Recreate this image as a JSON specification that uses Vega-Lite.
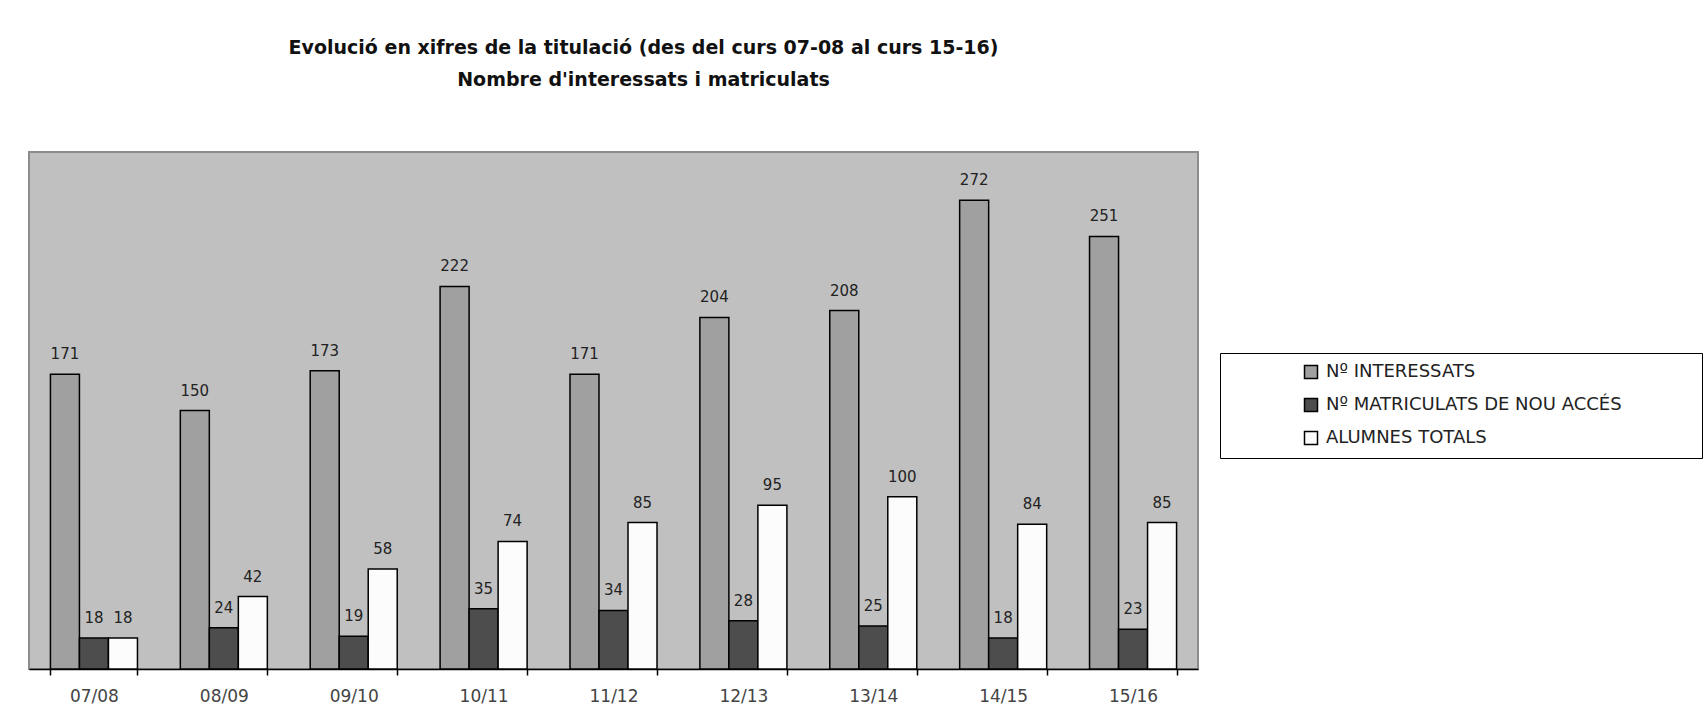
{
  "$schema": "https://vega.github.io/schema/vega-lite/v6.json",
  "width": 1169,
  "height": 517,
  "autosize": {"type": "none"},
  "padding": {"left": 29, "top": 152, "right": 506, "bottom": 58},
  "background": "white",
  "title": {
    "text": ["Evolució en xifres de la titulació (des del curs 07-08 al curs 15-16)", "Nombre d'interessats i matriculats"],
    "font": "DejaVu Sans",
    "fontWeight": "bold",
    "fontSize": 19,
    "lineHeight": 32.5,
    "color": "#111",
    "anchor": "middle",
    "dx": 30,
    "offset": 62
  },
  "data": {
    "values": [
      {"curs": "07/08", "serie": "Nº INTERESSATS", "valor": 171},
      {"curs": "07/08", "serie": "Nº MATRICULATS DE NOU ACCÉS", "valor": 18},
      {"curs": "07/08", "serie": "ALUMNES TOTALS", "valor": 18},
      {"curs": "08/09", "serie": "Nº INTERESSATS", "valor": 150},
      {"curs": "08/09", "serie": "Nº MATRICULATS DE NOU ACCÉS", "valor": 24},
      {"curs": "08/09", "serie": "ALUMNES TOTALS", "valor": 42},
      {"curs": "09/10", "serie": "Nº INTERESSATS", "valor": 173},
      {"curs": "09/10", "serie": "Nº MATRICULATS DE NOU ACCÉS", "valor": 19},
      {"curs": "09/10", "serie": "ALUMNES TOTALS", "valor": 58},
      {"curs": "10/11", "serie": "Nº INTERESSATS", "valor": 222},
      {"curs": "10/11", "serie": "Nº MATRICULATS DE NOU ACCÉS", "valor": 35},
      {"curs": "10/11", "serie": "ALUMNES TOTALS", "valor": 74},
      {"curs": "11/12", "serie": "Nº INTERESSATS", "valor": 171},
      {"curs": "11/12", "serie": "Nº MATRICULATS DE NOU ACCÉS", "valor": 34},
      {"curs": "11/12", "serie": "ALUMNES TOTALS", "valor": 85},
      {"curs": "12/13", "serie": "Nº INTERESSATS", "valor": 204},
      {"curs": "12/13", "serie": "Nº MATRICULATS DE NOU ACCÉS", "valor": 28},
      {"curs": "12/13", "serie": "ALUMNES TOTALS", "valor": 95},
      {"curs": "13/14", "serie": "Nº INTERESSATS", "valor": 208},
      {"curs": "13/14", "serie": "Nº MATRICULATS DE NOU ACCÉS", "valor": 25},
      {"curs": "13/14", "serie": "ALUMNES TOTALS", "valor": 100},
      {"curs": "14/15", "serie": "Nº INTERESSATS", "valor": 272},
      {"curs": "14/15", "serie": "Nº MATRICULATS DE NOU ACCÉS", "valor": 18},
      {"curs": "14/15", "serie": "ALUMNES TOTALS", "valor": 84},
      {"curs": "15/16", "serie": "Nº INTERESSATS", "valor": 251},
      {"curs": "15/16", "serie": "Nº MATRICULATS DE NOU ACCÉS", "valor": 23},
      {"curs": "15/16", "serie": "ALUMNES TOTALS", "valor": 85}
    ]
  },
  "encoding": {
    "x": {
      "field": "curs",
      "type": "nominal",
      "sort": null,
      "scale": {"paddingInner": 0.33, "paddingOuter": 0.165},
      "axis": {
        "title": null,
        "labelAngle": 0,
        "labelFont": "DejaVu Sans",
        "labelFontSize": 17,
        "labelColor": "#444",
        "labelPadding": 13,
        "domainColor": "#000",
        "domainWidth": 1.5,
        "tickColor": "#000",
        "tickWidth": 1.5,
        "tickSize": 6,
        "tickBand": "extent"
      }
    },
    "xOffset": {
      "field": "serie",
      "type": "nominal",
      "sort": ["Nº INTERESSATS", "Nº MATRICULATS DE NOU ACCÉS", "ALUMNES TOTALS"],
      "scale": {"paddingInner": 0, "paddingOuter": 0}
    },
    "y": {
      "field": "valor",
      "type": "quantitative",
      "scale": {"domain": [0, 300], "nice": false},
      "axis": null
    }
  },
  "layer": [
    {
      "mark": {"type": "bar", "stroke": "#000", "strokeWidth": 1.5},
      "encoding": {
        "fill": {
          "field": "serie",
          "type": "nominal",
          "sort": ["Nº INTERESSATS", "Nº MATRICULATS DE NOU ACCÉS", "ALUMNES TOTALS"],
          "scale": {
            "domain": ["Nº INTERESSATS", "Nº MATRICULATS DE NOU ACCÉS", "ALUMNES TOTALS"],
            "range": ["#a0a0a0", "#4d4d4d", "#fcfcfc"]
          },
          "legend": {
            "title": " ",
            "titleOrient": "right",
            "titlePadding": 70,
            "titleFontSize": 11,
            "orient": "none",
            "legendX": 1191,
            "legendY": 201,
            "direction": "vertical",
            "symbolType": "square",
            "symbolSize": 169,
            "symbolStrokeColor": "#000",
            "symbolStrokeWidth": 1.5,
            "symbolOffset": 72,
            "labelFont": "DejaVu Sans",
            "labelFontSize": 18,
            "labelColor": "#222",
            "labelLimit": 500,
            "labelOffset": 6,
            "rowPadding": 13,
            "padding": 10,
            "strokeColor": "#000",
            "fillColor": "#fff"
          }
        }
      }
    },
    {
      "mark": {"type": "text", "baseline": "alphabetic", "dy": -15, "font": "DejaVu Sans", "fontSize": 15, "color": "#222"},
      "encoding": {
        "text": {"field": "valor", "type": "quantitative"}
      }
    }
  ],
  "config": {
    "view": {"fill": "#c0c0c0", "stroke": "#8c8c8c", "strokeWidth": 2}
  }
}
